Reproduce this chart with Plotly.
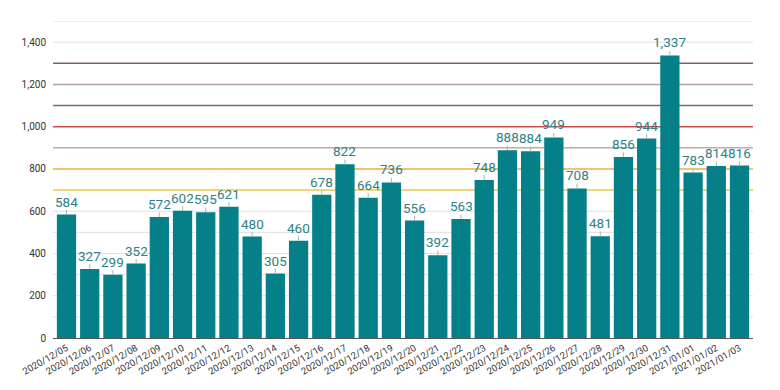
import plotly.graph_objects as go

dates = ["2020/12/05","2020/12/06","2020/12/07","2020/12/08","2020/12/09","2020/12/10",
         "2020/12/11","2020/12/12","2020/12/13","2020/12/14","2020/12/15","2020/12/16",
         "2020/12/17","2020/12/18","2020/12/19","2020/12/20","2020/12/21","2020/12/22",
         "2020/12/23","2020/12/24","2020/12/25","2020/12/26","2020/12/27","2020/12/28",
         "2020/12/29","2020/12/30","2020/12/31","2021/01/01","2021/01/02","2021/01/03"]
values = [584, 327, 299, 352, 572, 602, 595, 621, 480, 305, 460, 678, 822, 664, 736,
          556, 392, 563, 748, 888, 884, 949, 708, 481, 856, 944, 1337, 783, 814, 816]

ref_levels = [700, 800, 900, 1000, 1100, 1200, 1300]
ref_colors = ["#e8c94e", "#e9b140", "#caa9a4", "#d44a4a", "#7f6673", "#b39ea8", "#7a5f74"]

grid_levels = list(range(100, 1600, 100))
ytick_vals = [0, 200, 400, 600, 800, 1000, 1200, 1400]

BAR = "#057f88"
LABEL = "#2e8088"

fig = go.Figure()
fig.add_trace(go.Bar(
    x=dates, y=values, marker=dict(color=BAR, line=dict(width=0)),
    error_y=dict(type="constant", value=22, valueminus=0, symmetric=False,
                 width=0, thickness=1, color="#a9b5b6"),
    hoverinfo="x+y",
))

for lv in grid_levels:
    if lv in ref_levels:
        continue
    fig.add_shape(type="line", xref="paper", yref="y", x0=0, x1=1, y0=lv, y1=lv,
                  line=dict(color="#e0e0e0", width=1), layer="below")

for lv, col in zip(ref_levels, ref_colors):
    fig.add_shape(type="line", xref="paper", yref="y", x0=0, x1=1, y0=lv, y1=lv,
                  line=dict(color=col, width=1.5), layer="below")

for d, v in zip(dates, values):
    fig.add_annotation(x=d, y=v, text=f"{v:,}", showarrow=False, yanchor="bottom",
                       yshift=3, font=dict(size=13.5, color=LABEL, family="Roboto"))

fig.update_layout(
    width=772, height=382,
    margin=dict(l=45, r=27, t=13, b=52),
    paper_bgcolor="white", plot_bgcolor="white",
    bargap=0.17, showlegend=False,
    font=dict(family="Roboto", size=10, color="#333"),
    xaxis=dict(tickangle=-30, tickfont=dict(size=9.5, color="#333"), showgrid=False,
               showline=True, linecolor="#555", linewidth=1, ticks="", automargin=False),
    yaxis=dict(range=[0, 1500], tickvals=ytick_vals, tickformat=",",
               showgrid=False, zeroline=False, ticks="", ticklabelstandoff=6,
               automargin=False, tickfont=dict(size=10, color="#333")),
)

fig.write_html("out.html")
